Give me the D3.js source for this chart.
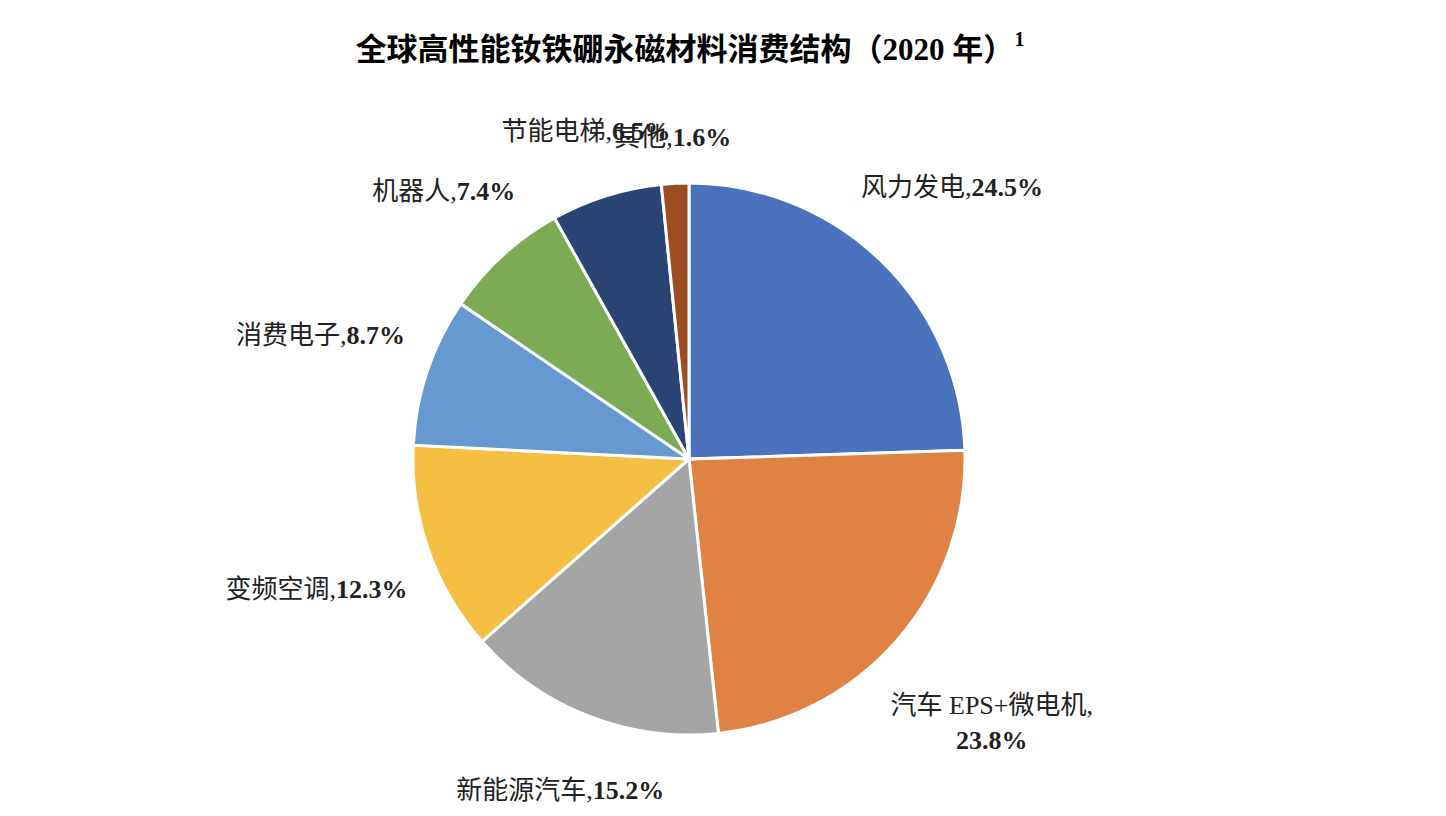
<!DOCTYPE html>
<html><head><meta charset="utf-8">
<script src="https://cdn.jsdelivr.net/npm/d3@7"></script>
<style>body{margin:0;background:#fff}</style></head>
<body><svg id="c" width="1446" height="816"></svg>
<script>
const categories=["风力发电","汽车EPS+微电机","新能源汽车","变频空调","消费电子","机器人","节能电梯","其他"];
const values=[24.5,23.8,15.2,12.3,8.7,7.4,6.5,1.6];
const colors=["#4a72bd","#e08244","#a5a5a5","#f4bf42","#6699cf","#7dab55","#2c4474","#9c4e22"];
const titleText="全球高性能钕铁硼永磁材料消费结构（2020 年）";

const svg=d3.select("#c");
const font='"Liberation Serif","Noto Sans CJK SC",serif';
const cx=689,cy=459,r=276;

const title=svg.append("text").attr("x",690).attr("y",60).attr("text-anchor","middle")
 .attr("font-family",font).attr("font-weight","bold").attr("font-size",31).attr("fill","#000");
title.append("tspan").text(titleText);
title.append("tspan").attr("dy",-14).attr("font-size",20).text("1");

const pie=d3.pie().sort(null).value(d=>d)(values);
const arc=d3.arc().innerRadius(0).outerRadius(r);
const g=svg.append("g").attr("transform",`translate(${cx},${cy})`);
g.selectAll("path").data(pie).join("path").attr("d",arc)
 .attr("fill",(d,i)=>colors[i]).attr("stroke","#fff").attr("stroke-width",3);

pie.forEach((d,i)=>{
  const a=(d.startAngle+d.endAngle)/2;
  const lines = i===1 ? [["汽车 EPS+微电机,",""],["",values[i].toFixed(1)+"%"]]
                      : [[categories[i]+",",values[i].toFixed(1)+"%"]];
  const t=g.append("text").attr("text-anchor","middle").attr("font-family",font)
    .attr("font-size",26).attr("fill","#222");
  lines.forEach((l,k)=>{
    const ts=t.append("tspan").attr("x",0).attr("dy",k===0?0:35);
    ts.append("tspan").text(l[0]);
    ts.append("tspan").attr("font-weight","bold").text(l[1]);
  });
  const bb=t.node().getBBox();
  const w=bb.width/2,h=bb.height;
  const dist=r+28+Math.abs(Math.sin(a))*w+Math.abs(Math.cos(a))*h/2;
  const x=Math.sin(a)*dist, y=-Math.cos(a)*dist;
  const yOff=-(bb.y+bb.height/2);
  t.attr("transform",`translate(${x},${y+yOff})`);
});
</script></body></html>
